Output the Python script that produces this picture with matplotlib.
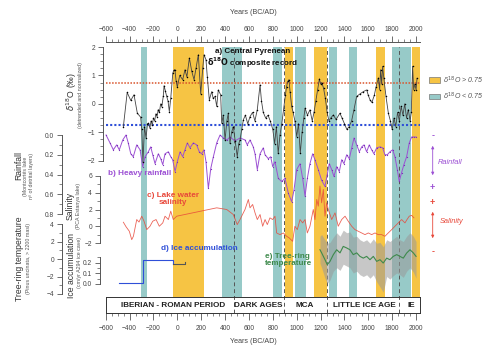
import matplotlib
matplotlib.use("Agg")
import matplotlib.pyplot as plt
from matplotlib.patches import Rectangle, FancyArrowPatch
from matplotlib.ticker import MultipleLocator

plt.rcParams["font.family"] = ["Liberation Sans", "DejaVu Sans"]

# ---- data ---------------------------------------------------------------
# warm (d18O > 0.75) and cold (d18O < 0.75) phases, years AD
warm_bands = [(-40, 225), (900, 965), (1145, 1250), (1665, 1740), (1965, 2030)]
cold_bands = [(-305, -255), (375, 540), (800, 880), (985, 1075), (1270, 1340),
              (1440, 1505), (1800, 1955)]
period_breaks = [476, 890, 1255, 1860]
period_names = ["IBERIAN - ROMAN PERIOD", "DARK AGES", "MCA", "LITTLE ICE AGE", "IE"]
period_centers = [-38, 676, 1070, 1563, 1960]

d18_year = [-452, -420, -390, -363, -335, -307, -298, -288, -275, -262, -250,
            -242, -230, -220, -210, -200, -190, -180, -170, -160, -150, -140,
            -130, -118, -111, -100, -89, -78, -67, -55, -38, -30, -20, -10, 0,
            20, 45, 64, 80, 101, 121, 140, 157, 176, 196, 213, 224, 240, 251,
            268, 288, 300, 316, 330, 343, 363, 372, 385, 400, 415, 427, 441,
            455, 469, 485, 502, 515, 525, 540, 553, 570, 590, 609, 630, 650,
            670, 693, 705, 720, 740, 760, 780, 800, 815, 830, 845, 860, 875,
            890, 905, 915, 925, 935, 945, 958, 970, 985, 1000, 1015, 1030,
            1045, 1060, 1070, 1090, 1111, 1130, 1145, 1160, 1175, 1190, 1200,
            1210, 1225, 1240, 1255, 1270, 1285, 1307, 1330, 1362, 1380, 1400,
            1420, 1440, 1460, 1480, 1502, 1530, 1558, 1586, 1600, 1614, 1630,
            1650, 1665, 1684, 1695, 1703, 1712, 1720, 1730, 1748, 1768, 1785,
            1800, 1815, 1830, 1845, 1860, 1875, 1890, 1905, 1920, 1935, 1950,
            1960, 1971, 1980, 1990, 2000, 2008]
d18_val = [-0.80, 0.40, 0.12, 0.32, -0.33, -0.47, -0.9, -2.05, -0.8, -1.2, -0.7,
           -0.68, -0.85, -0.6, -0.75, -0.5, -0.6, -0.35, -0.45, -0.2, -0.3, 0.0,
           -0.1, 0.26, 0.64, 0.45, 0.26, 0.1, -0.27, 0.2, 1.08, 1.18, 1.2, 0.8,
           0.59, 1.0, 0.85, 1.2, 0.95, 1.61, 1.14, 0.85, 1.26, 1.73, 0.35, 1.26,
           1.73, 1.55, 0.96, 0.14, 0.43, 0.2, 0.26, -0.09, 0.49, 0.32, -0.68,
           -0.4, -1.27, -0.6, -0.33, -1.39, -1.0, -0.8, -1.3, -1.86, -1.4, -1.27,
           -0.9, -0.56, -0.4, -0.7, -0.45, -0.3, -0.6, -0.2, 0.67, 0.1, -0.3,
           -0.5, -0.4, -0.62, -0.9, -1.4, -0.8, -1.74, -1.1, -0.7, -0.2, 0.3,
           0.6, 0.79, 0.85, 0.4, -0.09, -0.3, -0.6, -1.15, -0.7, -1.74, -1.0,
           -0.5, -0.15, -0.4, -0.21, -0.6, -0.3, 0.1, 0.5, 0.88, 0.7, 0.75,
           0.55, 0.2, -0.3, -0.6, -0.5, -0.39, -0.55, -0.33, -0.5, -0.7, -0.9,
           -0.8, -0.6, -0.2, 0.26, 0.35, 0.43, 0.49, 0.3, 0.14, 0.05, 0.3, 0.6,
           0.91, 0.5, 1.2, 0.7, 1.32, 0.9, 0.26, -0.33, -0.6, -0.9, -0.5, -0.8,
           -0.3, -0.6, -0.09, -0.4, 0.0, -0.5, -0.2, -0.6, -0.3, 1.32, 0.5, 0.7,
           0.49, 0.9]

rain_year = [-597, -564, -536, -508, -486, -457, -430, -411, -390, -369, -340,
             -312, -290, -270, -243, -223, -206, -187, -159, -139, -122, -103,
             -75, -55, -39, -19, 0, 23, 45, 64, 84, 106, 134, 162, 184, 204,
             224, 240, 260, 280, 302, 330, 358, 385, 416, 441, 483, 525, 567,
             586, 609, 636, 651, 670, 693, 720, 735, 762, 782, 799, 818, 846,
             874, 902, 930, 958, 977, 1000, 1028, 1050, 1070, 1089, 1111, 1134,
             1153, 1181, 1209, 1237, 1256, 1273, 1293, 1312, 1335, 1357, 1377,
             1396, 1419, 1441, 1461, 1480, 1503, 1524, 1545, 1564, 1586, 1608,
             1628, 1647, 1670, 1698, 1720, 1739, 1759, 1781, 1804, 1823, 1843,
             1859, 1879, 1898, 1921, 1943, 1963, 1982, 2000]
rain_val = [0.00, 0.08, 0.15, 0.10, 0.15, 0.05, 0.00, 0.08, 0.19, 0.22, 0.10,
            0.15, 0.32, 0.22, 0.17, 0.12, 0.20, 0.29, 0.19, 0.24, 0.30, 0.19,
            0.17, 0.22, 0.25, 0.37, 0.27, 0.17, 0.22, 0.15, 0.08, 0.13, 0.08,
            0.10, 0.17, 0.19, 0.15, 0.27, 0.54, 0.34, 0.22, 0.08, 0.00, 0.03,
            0.05, 0.02, 0.06, 0.03, 0.05, 0.10, 0.05, 0.12, 0.19, 0.35, 0.19,
            0.13, 0.20, 0.24, 0.22, 0.32, 0.27, 0.44, 0.47, 0.44, 0.59, 0.675,
            0.56, 0.35, 0.29, 0.44, 0.62, 0.44, 0.29, 0.19, 0.25, 0.35, 0.46,
            0.52, 0.40, 0.29, 0.35, 0.42, 0.32, 0.37, 0.25, 0.29, 0.20, 0.24,
            0.13, 0.03, 0.10, 0.17, 0.12, 0.10, 0.17, 0.10, 0.15, 0.19, 0.13,
            0.12, 0.13, 0.20, 0.20, 0.17, 0.15, 0.22, 0.35, 0.47, 0.38, 0.30,
            0.22, 0.08, 0.02, 0.02, 0.02]

sal_year = [-452, -430, -402, -382, -368, -354, -340, -321, -298, -279, -256,
            -229, -206, -178, -151, -122, -103, -75, -55, -34, -5, 330, 414,
            469, 502, 525, 567, 595, 609, 631, 651, 670, 693, 715, 735, 754,
            776, 799, 818, 832, 860, 888, 916, 938, 966, 985, 1005, 1028, 1050,
            1070, 1089, 1111, 1139, 1153, 1168, 1181, 1195, 1209, 1223, 1237,
            1251, 1265, 1293, 1321, 1348, 1377, 1405, 1432, 1461, 1488, 1516,
            1544, 1572, 1600, 1628, 1656, 1683, 1712, 1739, 1767, 1796, 1823,
            1851, 1879, 1907, 1924, 1943, 1963, 1982]
sal_val = [0.48, -0.05, -0.6, -1.6, -1.2, -0.2, 0.8, 0.5, 1.2, 0.6, -0.4, 0.0,
           0.6, 0.8, 0.0, 0.4, 1.2, 0.8, 1.8, 0.8, 1.2, 2.2, 2.0, 1.4, 0.2, 0.8,
           2.0, 3.2, 2.2, 2.6, 1.6, 0.8, 1.4, 0.0, 0.8, 0.2, 1.0, 0.8, 1.2, -0.8,
           -1.0, -0.8, -1.2, -1.4, -1.8, 0.0, -0.4, 0.8, 0.4, 0.8, -0.8, 0.0,
           2.0, 0.8, 3.2, 2.4, 4.8, 2.8, 4.4, 1.2, 2.8, 2.0, 0.8, 1.6, 0.0, 0.8,
           1.2, 0.6, 0.0, -0.4, -0.6, -0.8, -1.0, -0.8, -1.0, -0.8, -1.0, -1.0,
           -1.2, -0.8, -0.4, 0.0, 0.4, 0.8, 0.4, 0.8, 1.2, 1.3, 1.0]

tree_year = [1195, 1209, 1237, 1256, 1279, 1307, 1335, 1363, 1390, 1419, 1446,
             1474, 1503, 1530, 1558, 1586, 1614, 1642, 1670, 1698, 1725, 1754,
             1781, 1809, 1838, 1865, 1893, 1921, 1949, 1977, 2000]
tree_val = [1.06, 0.7, -0.08, -0.65, -0.27, 0.5, 1.06, 0.7, 1.44, 1.26, 1.06,
            0.5, 0.7, 0.3, 0.1, 0.3, -0.08, 0.3, -0.27, -0.08, -0.46, 0.1, -0.08,
            0.3, 0.5, 0.3, 0.1, 0.68, 1.06, 0.7, 0.3]
tree_hi = [2.6, 2.8, 2.2, 1.8, 1.9, 2.5, 3.0, 2.6, 3.3, 3.0, 3.1, 2.5, 2.6, 2.2,
           2.0, 2.2, 1.8, 2.3, 1.8, 1.9, 1.4, 2.2, 2.0, 2.3, 2.6, 2.2, 2.0, 2.6,
           3.0, 2.6, 2.0]
tree_lo = [-0.5, -1.0, -2.2, -2.8, -2.4, -1.4, -1.0, -1.3, -0.6, -0.8, -1.0,
           -1.6, -1.4, -1.8, -2.0, -1.8, -2.2, -1.8, -2.6, -3.2, -3.8, -2.0,
           -2.3, -1.9, -1.6, -1.8, -2.1, -1.4, -1.0, -1.5, -2.2]

ice_year = [-490, -285, -35]
ice_val = [0.005, 0.225, 0.19]
ice_end = 65
ice_last = 0.21

# ---- styling ---------------------------------------------------------------
YELLOW, TEAL = "#f6c444", "#97cac8"
PURPLE, RED, BLUE, GREEN = "#9c50d4", "#e8483a", "#2f4fd8", "#3e8a4c"
AXC, TXT = "#555555", "#444444"
TICK_FS = 4.8

W, H = 497, 353
X0, X1 = 105.7, 420.0
YEAR0, YEAR1 = -600, 2033

fig = plt.figure(figsize=(W / 100, H / 100), dpi=100)
fig.patch.set_facecolor("white")


def add_ax(top, bottom):
    return fig.add_axes([X0 / W, 1 - bottom / H, (X1 - X0) / W, (bottom - top) / H])


def ftext(x, y, s, **kw):
    return fig.text(x / W, 1 - y / H, s, **kw)


# background: bands, dashed lines, top year axis
bg = add_ax(42, 313.3)
bg.set_xlim(YEAR0, YEAR1)
bg.set_ylim(0, 1)
bg.patch.set_visible(False)
for s in ("left", "right", "bottom"):
    bg.spines[s].set_visible(False)
bg.spines["top"].set_color(AXC)
bg.spines["top"].set_linewidth(0.7)
bg.yaxis.set_visible(False)
bg.xaxis.tick_top()
bg.xaxis.set_major_locator(MultipleLocator(200))
bg.xaxis.set_minor_locator(MultipleLocator(50))
bg.tick_params(axis="x", which="major", length=4, width=0.6, color=AXC,
               labelsize=TICK_FS, labelcolor=TXT, pad=2.5)
bg.tick_params(axis="x", which="minor", length=2.2, width=0.5, color=AXC)
yb0, yb1 = (313.3 - 297) / 271.3, (313.3 - 47) / 271.3
for a, b in warm_bands:
    bg.axvspan(a, b, ymin=yb0, ymax=yb1, color=YELLOW, lw=0, zorder=1)
for a, b in cold_bands:
    bg.axvspan(a, b, ymin=yb0, ymax=yb1, color=TEAL, lw=0, zorder=1)
for x in period_breaks:
    bg.axvline(x, ymin=0, ymax=yb1, color="#555555", lw=0.7, ls=(0, (4, 3)), zorder=2)
ftext(253, 12.3, "Years (BC/AD)", ha="center", va="center", fontsize=5.1, color=TXT)

# period box with bottom year axis
box = add_ax(297.3, 313.3)
box.set_xlim(YEAR0, YEAR1)
box.set_ylim(0, 1)
box.patch.set_visible(False)
for s in box.spines.values():
    s.set_color("#333333")
    s.set_linewidth(0.7)
box.yaxis.set_visible(False)
box.xaxis.set_major_locator(MultipleLocator(200))
box.xaxis.set_minor_locator(MultipleLocator(50))
box.tick_params(axis="x", which="major", length=5, width=0.6, color=AXC,
                labelsize=TICK_FS, labelcolor=TXT, pad=3.5)
box.tick_params(axis="x", which="minor", length=2.5, width=0.5, color=AXC)
for name, c in zip(period_names, period_centers):
    box.text(c, 0.5, name, ha="center", va="center", fontsize=5.9,
             fontweight="bold", color="#222222")
ftext(253, 341.7, "Years (BC/AD)", ha="center", va="center", fontsize=5.1, color=TXT)


def overlay(top, bottom, ylo, yhi, offset_px, major, minor):
    ax = add_ax(top, bottom)
    ax.set_xlim(YEAR0, YEAR1)
    ax.set_ylim(ylo, yhi)
    ax.patch.set_visible(False)
    for s in ("top", "right", "bottom"):
        ax.spines[s].set_visible(False)
    ax.spines["left"].set_position(("outward", offset_px * 0.72))
    ax.spines["left"].set_color(AXC)
    ax.spines["left"].set_linewidth(0.7)
    ax.xaxis.set_visible(False)
    ax.yaxis.set_major_locator(MultipleLocator(major))
    ax.yaxis.set_minor_locator(MultipleLocator(minor))
    ax.tick_params(axis="y", which="major", length=3.5, width=0.6, color=AXC,
                   labelsize=TICK_FS, labelcolor=TXT, pad=2)
    ax.tick_params(axis="y", which="minor", length=2, width=0.5, color=AXC)
    return ax


# c) salinity
ax_sal = overlay(176, 243, -2, 6, 6, 2, 1)
ax_sal.plot(sal_year, sal_val, color=RED, lw=0.6, alpha=0.85, clip_on=False)
ax_sal.text(-36, 3.3, "c) Lake water\nsalinity", ha="center", va="center",
            fontsize=5.9, fontweight="bold", color=RED, linespacing=1.0)

# b) rainfall
ax_rain = overlay(135, 214, 0.8, 0.0, 44, 0.2, 0.1)
ax_rain.plot(rain_year, rain_val, color=PURPLE, lw=0.7, marker="o", ms=0.9,
             mfc="#7a2fb8", mec="none", clip_on=False)
ax_rain.text(-317, 0.385, "b) Heavy rainfall", ha="center", va="center",
             fontsize=5.9, fontweight="bold", color=PURPLE)

# e) tree-ring temperature
ax_tree = overlay(224, 294, -4, 4, 44, 2, 1)
ax_tree.fill_between(tree_year, tree_lo, tree_hi, color="#9a9a9a", alpha=0.55, lw=0)
ax_tree.plot(tree_year, tree_val, color=GREEN, lw=0.8)
ax_tree.text(735, -0.1, "e) Tree-ring\ntemperature", ha="left", va="center",
             fontsize=5.9, fontweight="bold", color=GREEN, linespacing=1.0)

# d) ice accumulation
ax_ice = overlay(257.4, 284, 0.0, 0.25, 6, 0.1, 0.05)
ax_ice.step(ice_year + [ice_year[-1]], ice_val + [ice_val[-1]], where="post",
            color=BLUE, lw=0.8, clip_on=False)
ax_ice.plot([ice_year[-1], ice_end, ice_end], [ice_val[-1], ice_val[-1], ice_last],
            color="#555555", lw=0.8, clip_on=False)
ax_ice.text(182, 0.335, "d) Ice accumulation", ha="center", va="center",
            fontsize=5.9, fontweight="bold", color=BLUE, clip_on=False)

# a) d18O composite
ax_d = overlay(47, 160.7, -2, 2, 3, 1, 0.25)
ax_d.axhline(0.75, color="#d9532b", lw=1.1, ls=(0, (1, 1)), zorder=1)
ax_d.axhline(-0.75, color=BLUE, lw=1.5, ls=(0, (1, 1)), zorder=1)
ax_d.plot(d18_year, d18_val, color="#444444", lw=0.6, marker="o", ms=1.1,
          mfc="black", mec="none", clip_on=False, zorder=3)
ax_d.text(628, 1.58, "a) Central Pyrenean\n" + r"$\mathbf{\delta^{18}O}$ composite record",
          ha="center", va="center", fontsize=5.8, fontweight="bold",
          color="#111111", linespacing=1.05, zorder=4)

# left axis titles
ftext(71.7, 92, r"$\delta^{18}$O (‰)", rotation=90, ha="center", va="center",
      fontsize=6.2, color="#333333")
ftext(80.5, 95, "(detrended and normalized)", rotation=90, ha="center",
      va="center", fontsize=3.8, color="#555555")
ftext(18.3, 166, "Rainfall", rotation=90, ha="center", va="center",
      fontsize=6.2, color="#333333")
ftext(28.5, 176, "(Montcortés lake\nnº of detrital layers)", rotation=90,
      ha="center", va="center", fontsize=3.8, color="#555555", linespacing=1.0)
ftext(70, 206, "Salinity", rotation=90, ha="center", va="center",
      fontsize=6.2, color="#333333")
ftext(78.5, 206, "(PCA Estanya lake)", rotation=90, ha="center", va="center",
      fontsize=3.8, color="#555555")
ftext(20, 259, "Tree-ring temperature", rotation=90, ha="center", va="center",
      fontsize=6.2, color="#333333")
ftext(28.8, 259, "(Pinus uncinata, > 2200 masl)", rotation=90, ha="center",
      va="center", fontsize=3.8, color="#555555")
ftext(71.7, 265, "Ice accumulation", rotation=90, ha="center", va="center",
      fontsize=6.2, color="#333333")
ftext(80, 262, "(cm/yr A294 ice cave)", rotation=90, ha="center", va="center",
      fontsize=3.8, color="#555555")

# right-hand legend
for yc, col, lab in ((80, YELLOW, r"$\delta^{18}$O > 0.75"),
                     (96.7, TEAL, r"$\delta^{18}$O < 0.75")):
    fig.add_artist(Rectangle((429 / W, 1 - (yc + 2.7) / H), 11 / W, 5.4 / H,
                             transform=fig.transFigure, fc=col, ec="#777777", lw=0.5))
    ftext(443, yc, lab, ha="left", va="center", fontsize=5, style="italic",
          color="#555555")

XR = 432.7
for y0, y1, sgn_top, sgn_bot, ytop, ybot, col, lab, ylab, xlab in (
        (143, 178, "-", "+", 135.7, 187.7, PURPLE, "Rainfall", 162.7, 450),
        (209, 241, "+", "-", 202.7, 251.7, RED, "Salinity", 221.7, 452)):
    fig.add_artist(FancyArrowPatch((XR / W, 1 - y0 / H), (XR / W, 1 - y1 / H),
                                   transform=fig.transFigure, arrowstyle="<|-|>",
                                   mutation_scale=4, color=col, lw=0.6))
    ftext(XR, ytop, sgn_top, ha="center", va="center", fontsize=6.5,
          fontweight="bold", color=col)
    ftext(XR, ybot, sgn_bot, ha="center", va="center", fontsize=6.5,
          fontweight="bold", color=col)
    ftext(xlab, ylab, lab, ha="center", va="center", fontsize=5.3,
          style="italic", color=col)

fig.savefig("out.png", dpi=100, facecolor="white")
